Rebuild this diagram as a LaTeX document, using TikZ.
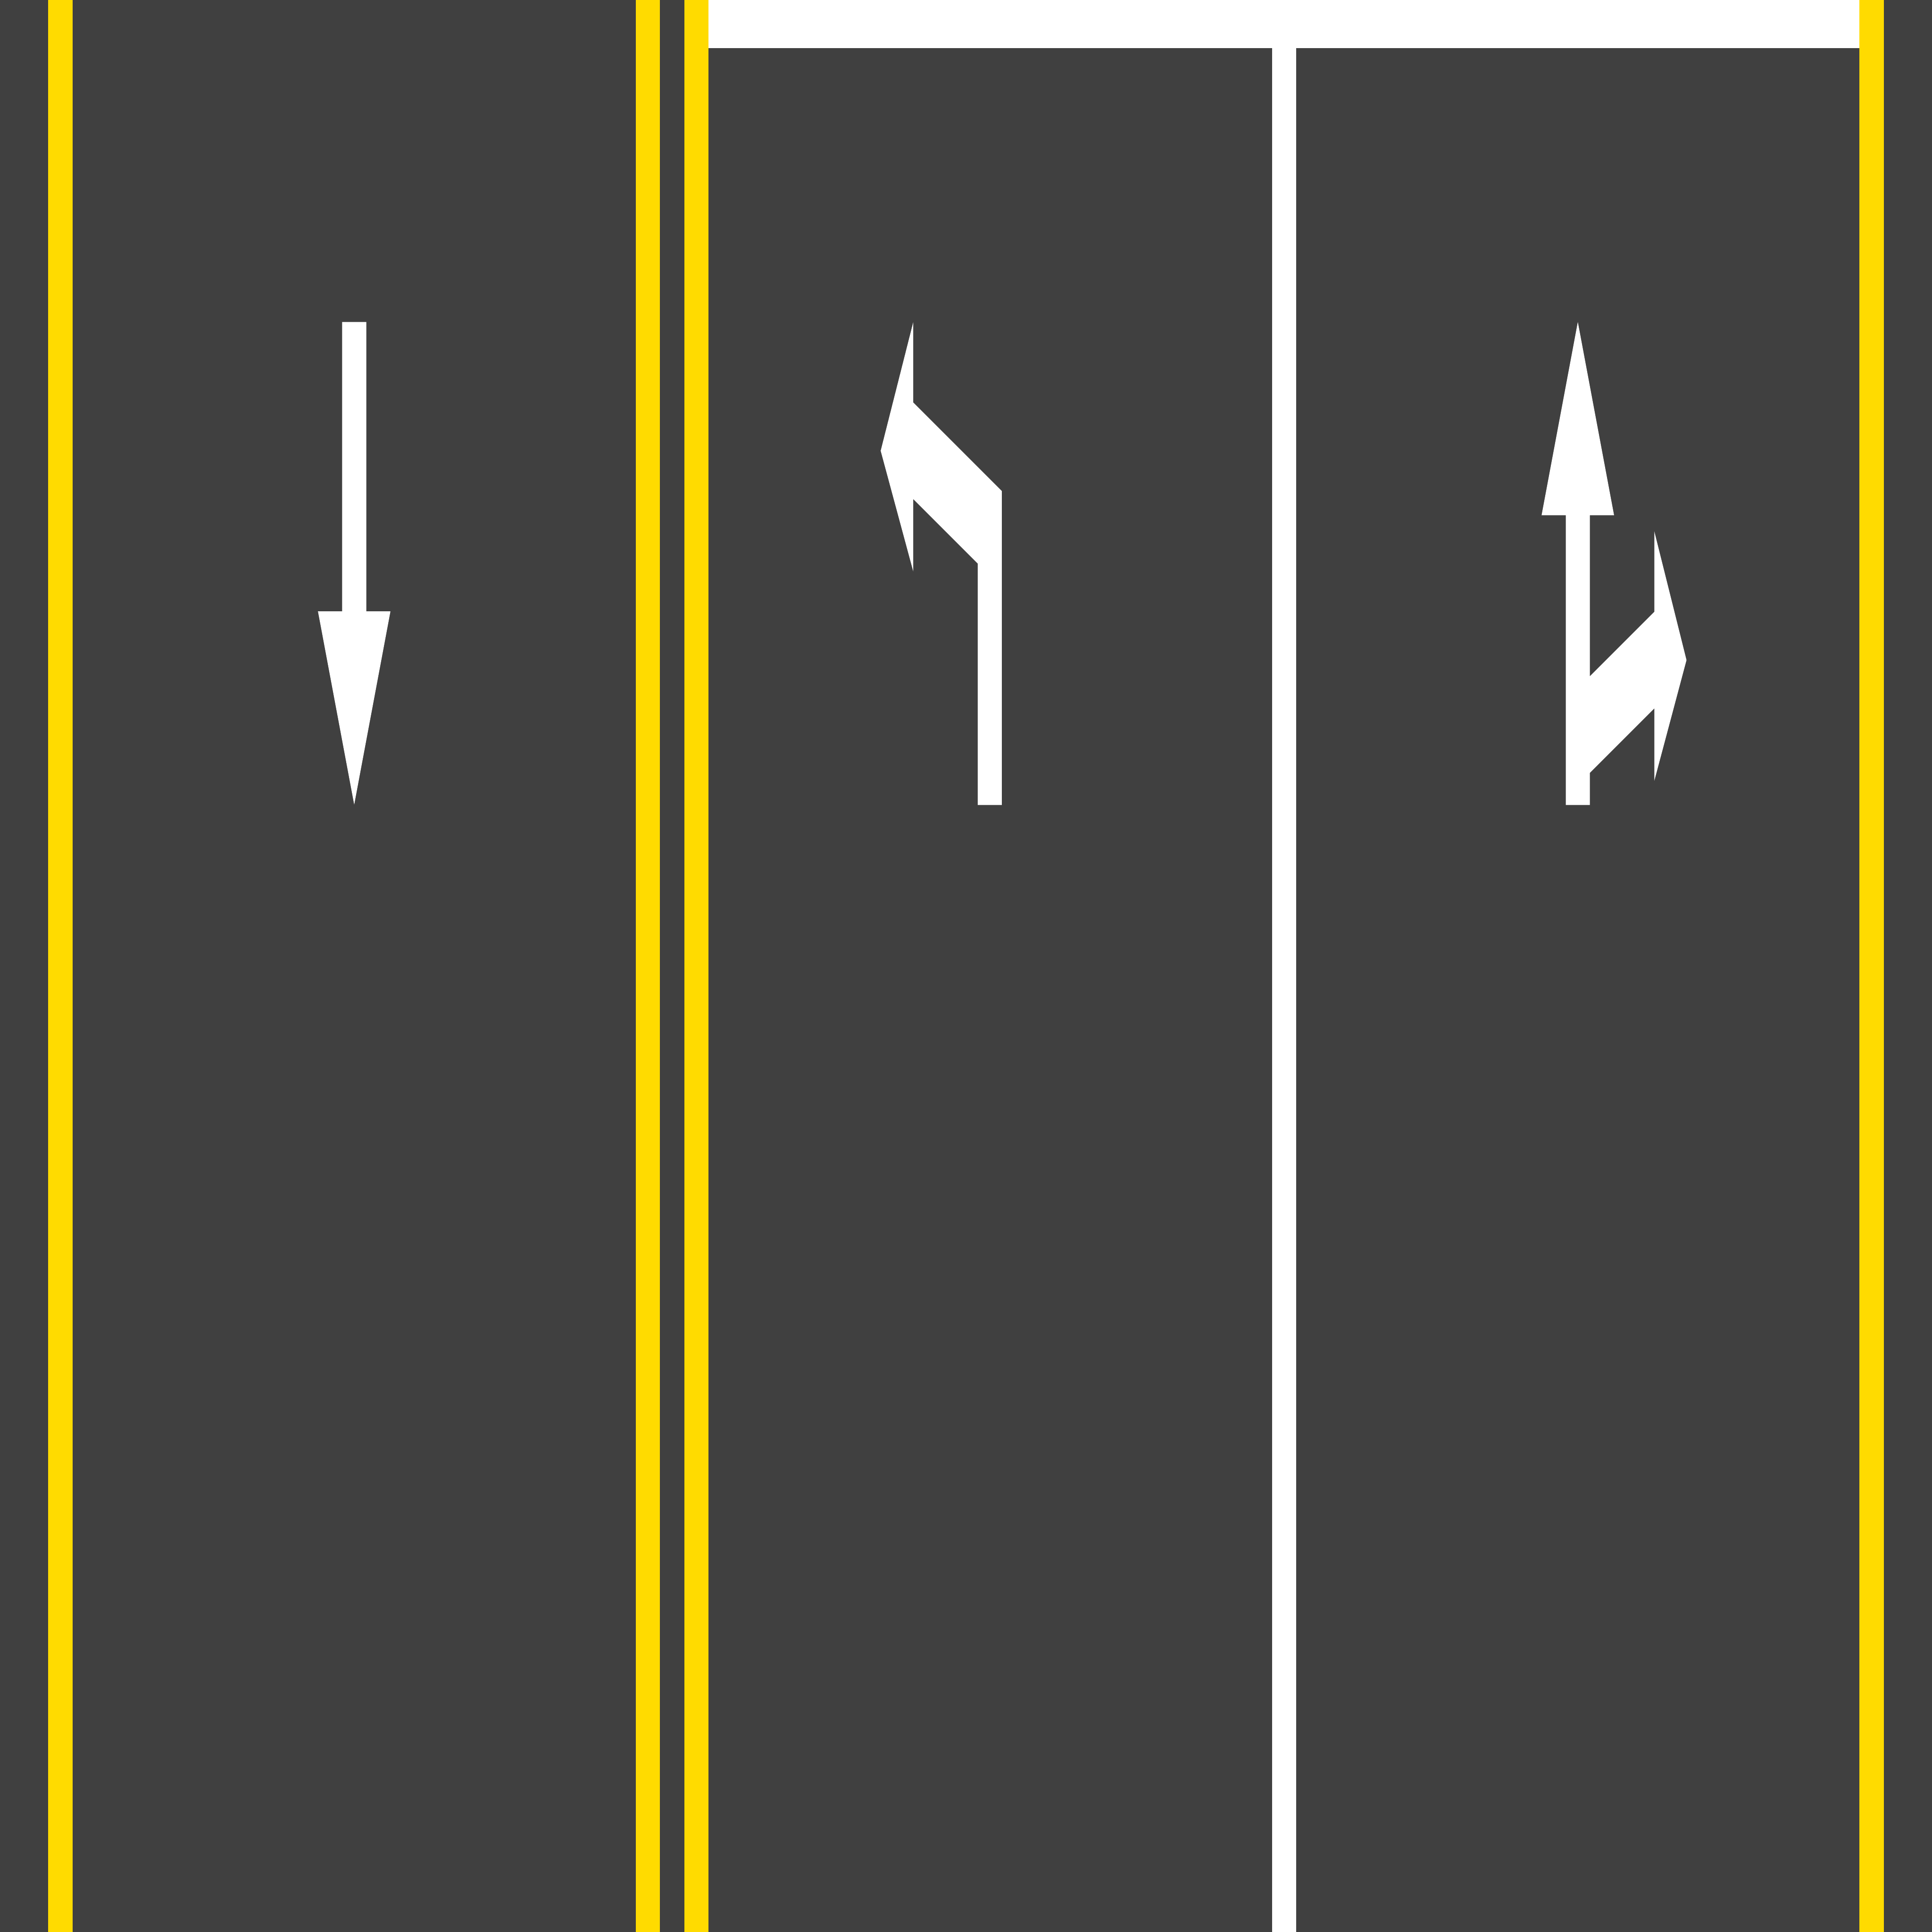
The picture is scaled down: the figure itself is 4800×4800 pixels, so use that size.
\documentclass[tikz,border=0pt]{standalone}
\usepackage{tikz}

\definecolor{asphalt}{HTML}{404040}
\definecolor{roadyellow}{HTML}{FFDB00}

\begin{document}
\begin{tikzpicture}[x=0.01cm, y=-0.01cm,
  road/.style={fill=asphalt},
  yline/.style={fill=roadyellow},
  wline/.style={fill=white},
  arrowmark/.style={fill=white}
]
\useasboundingbox (0,0) rectangle (4800,4800);
% asphalt
\path[road] (0,0) rectangle (4800,4800);
% yellow edge and centre lines
\path[yline] (120,0) rectangle (180,4800);
\path[yline] (1580,0) rectangle (1640,4800);
\path[yline] (1700,0) rectangle (1760,4800);
\path[yline] (4620,0) rectangle (4680,4800);
% stop line and lane divider
\path[wline] (1760,0) rectangle (4620,120);
\path[wline] (3160,120) rectangle (3220,4800);
% straight arrow, downwards
\path[arrowmark] (850,800) -- (910,800) -- (910,1519) -- (970,1519) -- (880,1999)
  -- (790,1519) -- (850,1519) -- cycle;
% left turn arrow
\path[arrowmark] (2269,800) -- (2188,1120) -- (2269,1420) -- (2269,1240)
  -- (2429,1400) -- (2429,2000) -- (2489,2000) -- (2489,1220)
  -- (2269,1000) -- cycle;
% straight and right turn arrow
\path[arrowmark] (3920,800) -- (3830,1280) -- (3890,1280) -- (3890,2000)
  -- (3950,2000) -- (3950,1920) -- (4110,1760) -- (4110,1940)
  -- (4190,1640) -- (4110,1320) -- (4110,1520) -- (3950,1680)
  -- (3950,1280) -- (4010,1280) -- cycle;
\end{tikzpicture}
\end{document}
